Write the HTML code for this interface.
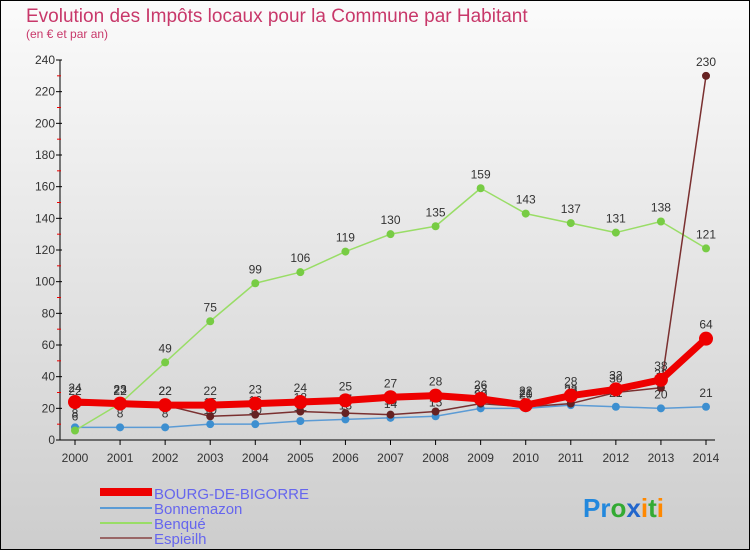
<!DOCTYPE html>
<html><head><meta charset="utf-8"><style>
html,body{margin:0;padding:0}
body{width:750px;height:550px;overflow:hidden;font-family:"Liberation Sans",sans-serif}
</style></head><body>
<svg id="chart" width="750" height="550" xmlns="http://www.w3.org/2000/svg">
<defs><linearGradient id="bg" x1="0" y1="0" x2="0" y2="1"><stop offset="0" stop-color="#fbfbfb"/><stop offset="1" stop-color="#cdcdcd"/></linearGradient></defs>
<rect x="0.5" y="0.5" width="749" height="549" fill="url(#bg)" stroke="#000"/>
<text x="26" y="22" font-size="19" fill="#c8386a">Evolution des Impôts locaux pour la Commune par Habitant</text>
<text x="26" y="38" font-size="12" fill="#c8386a">(en € et par an)</text>
<g id="axes"></g>
<g id="series"></g>
<g id="legend">
<rect x="100" y="488" width="52" height="8" fill="#ee0000"/>
<text x="154" y="499" font-size="15" fill="#6666ee">BOURG-DE-BIGORRE</text>
<line x1="100" y1="508" x2="152" y2="508" stroke="#5b9bd5" stroke-width="2"/>
<text x="154" y="514" font-size="15" fill="#6666ee">Bonnemazon</text>
<line x1="100" y1="523" x2="152" y2="523" stroke="#99dd66" stroke-width="2"/>
<text x="154" y="529" font-size="15" fill="#6666ee">Benqué</text>
<line x1="100" y1="538" x2="152" y2="538" stroke="#996666" stroke-width="2"/>
<text x="154" y="544" font-size="15" fill="#6666ee">Espieilh</text>
</g>
<g font-size="26" font-family="'Liberation Sans',sans-serif" font-weight="bold">
<text x="583" y="517"><tspan fill="#2288dd">Pr</tspan><tspan fill="#33aa33">o</tspan><tspan fill="#2266cc">x</tspan><tspan fill="#ff8800">i</tspan><tspan fill="#33aa33">t</tspan><tspan fill="#ff8800">i</tspan></text>
</g>
</svg>
<script>
const years=[2000,2001,2002,2003,2004,2005,2006,2007,2008,2009,2010,2011,2012,2013,2014];
const yTicks=[0,20,40,60,80,100,120,140,160,180,200,220,240];
const bourg=[24,23,22,22,23,24,25,27,28,26,22,28,32,38,64];
const bonnemazon=[8,8,8,10,10,12,13,14,15,20,20,22,21,20,21];
const benque=[6,23,49,75,99,106,119,130,135,159,143,137,131,138,121];
const espieilh=[22,22,22,15,16,18,17,16,18,23,21,23,30,33,230];
const NS="http://www.w3.org/2000/svg";
function xs(i){return 75+i*(706-75)/(years.length-1);}
function ys(v){return 440-v*(380/240);}
function mk(tag,attrs,parent){const e=document.createElementNS(NS,tag);for(const k in attrs)e.setAttribute(k,attrs[k]);parent.appendChild(e);return e;}
const ax=document.getElementById('axes');
let yl=mk('line',{x1:60,y1:60,x2:60,y2:440,stroke:'#000'},ax);


let xl=mk('line',{x1:60,y1:440,x2:715,y2:440,stroke:'#000'},ax);


yTicks.forEach(t=>{
  mk('line',{x1:56,y1:ys(t),x2:62,y2:ys(t),stroke:'#000'},ax);
  if(t<240) mk('line',{x1:57,y1:ys(t+10),x2:61,y2:ys(t+10),stroke:'#e00'},ax);
  const tx=mk('text',{x:55,y:ys(t)+4,'font-size':12,'text-anchor':'end',fill:'#333'},ax);
  tx.textContent=t;
  
  
});
years.forEach((y,i)=>{
  mk('line',{x1:xs(i),y1:440,x2:xs(i),y2:445,stroke:'#000'},ax);
  const tx=mk('text',{x:xs(i),y:462,'font-size':12,'text-anchor':'middle',fill:'#333'},ax);
  tx.textContent=y;
  
  
});
const sg=document.getElementById('series');
function draw(name,data,color,w,r,mcolor){
  const g=mk('g',{},sg);
  
  
  mk('polyline',{points:data.map((v,i)=>xs(i)+','+ys(v)).join(' '),fill:'none',stroke:color,'stroke-width':w,'stroke-linejoin':'round'},g);
  data.forEach((v,i)=>{
    const c=mk('circle',{cx:xs(i),cy:ys(v),r:r,fill:mcolor},g);
    
    
    const t=mk('text',{x:xs(i),y:ys(v)-10,'font-size':12,'text-anchor':'middle',fill:'#333'},g);
    t.textContent=v;
    
    
  });
}
draw('bonnemazon',bonnemazon,'#5b9bd5',1.5,4,'#3d8fd0');
draw('benque',benque,'#99dd66',1.5,4,'#77cc44');
draw('espieilh',espieilh,'#7a3030',1.5,4,'#662222');
draw('bourg',bourg,'#ee0000',7,7,'#ee0000');
</script>
</body></html>
